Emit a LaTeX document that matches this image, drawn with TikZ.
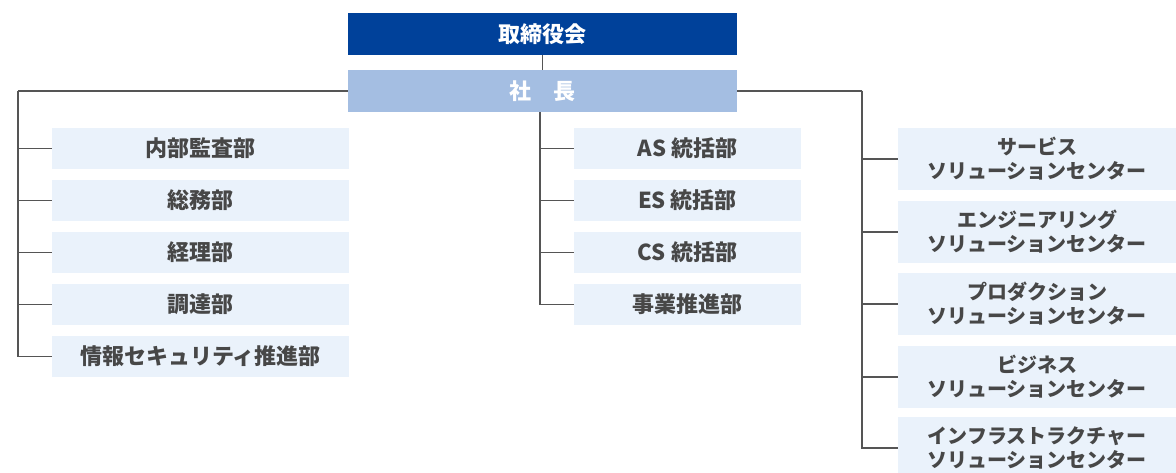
\documentclass[tikz,border=0pt]{standalone}
\usepackage{fontspec}
\setmainfont{Noto Sans CJK JP}
\usepackage{tikz}
\usetikzlibrary{calc, positioning}

\definecolor{boardblue}{HTML}{00419A}
\definecolor{presblue}{HTML}{A4BEE2}
\definecolor{deptfill}{HTML}{EAF2FB}
\definecolor{deptgray}{HTML}{474747}
\definecolor{linegray}{HTML}{555555}

\tikzset{
  topbox/.style={minimum width=389pt, minimum height=42pt, inner sep=0pt,
    font=\fontsize{22}{24}\selectfont\bfseries, text=white},
  deptbox/.style={fill=deptfill, inner sep=0pt, align=center, text=deptgray,
    font=\fontsize{22}{24}\selectfont\bfseries},
  leftdept/.style={deptbox, minimum width=297pt, minimum height=41pt},
  middept/.style={deptbox, minimum width=227pt, minimum height=41pt},
  rightdept/.style={deptbox, minimum width=278pt, minimum height=62pt,
    font=\fontsize{20}{24}\selectfont\bfseries},
  branch/.style={draw=linegray, line width=1.6pt}
}

\begin{document}
\begin{tikzpicture}[x=1pt,y=-1pt]
        \clip (0,0) rectangle (1176,473);
        % Top
        \node[topbox, fill=boardblue] (board) at (542.5,34) {取締役会};
        \node[topbox, fill=presblue] (pres) at (542.5,91) {社　長};
        \draw[branch] (board.south) -- (pres.north);
        % Left departments
        \node[leftdept] (audit) at (200.5,148.5) {内部監査部};
        \node[leftdept] (general) at (200.5,200.5) {総務部};
        \node[leftdept] (account) at (200.5,252.5) {経理部};
        \node[leftdept] (procure) at (200.5,304.5) {調達部};
        \node[leftdept] (security) at (200.5,356.5) {情報セキュリティ推進部};
        % Middle departments
        \node[middept] (as) at (687.5,148.5) {AS 統括部};
        \node[middept] (es) at (687.5,200.5) {ES 統括部};
        \node[middept] (cs) at (687.5,252.5) {CS 統括部};
        \node[middept] (bizdev) at (687.5,304.5) {事業推進部};
        % Right centers
        \node[rightdept] (service) at (1037,159) {サービス\\ソリューションセンター};
        \node[rightdept] (engineer) at (1037,232) {エンジニアリング\\ソリューションセンター};
        \node[rightdept] (product) at (1037,304) {プロダクション\\ソリューションセンター};
        \node[rightdept] (business) at (1037,377) {ビジネス\\ソリューションセンター};
        \node[rightdept] (infra) at (1037,448) {インフラストラクチャー\\ソリューションセンター};
        % Connectors
        \coordinate (leftbus) at (18,91);
        \coordinate (rightbus) at (862,91);
        \coordinate (midbus) at (540,91);
        \draw[branch] (pres.west) -- (leftbus);
        \draw[branch] (pres.east) -- (rightbus);
        \foreach \d in {audit,general,account,procure,security}
          \draw[branch] (leftbus) |- (\d.west);
        \foreach \d in {as,es,cs,bizdev}
          \draw[branch] (pres.south -| midbus) |- (\d.west);
        \foreach \d in {service,engineer,product,business,infra}
          \draw[branch] (rightbus) |- (\d.west);
    \end{tikzpicture}
\end{document}
